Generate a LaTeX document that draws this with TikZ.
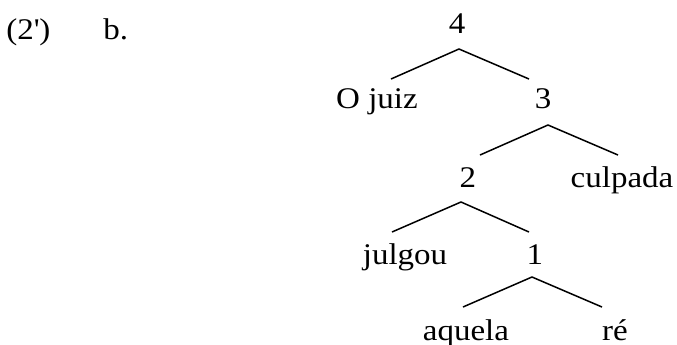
\documentclass[tikz,border=0pt]{standalone}
\usepackage{fontspec}
\setmainfont{Liberation Serif}[FakeStretch=1.1]
\begin{document}
\begin{tikzpicture}[x=0.5pt,y=-0.5pt,
    lbl/.style={anchor=base,inner sep=0pt,font=\fontsize{15}{17}\selectfont},
    branch/.style={line width=0.75pt}]
    \useasboundingbox (0,0) rectangle (677,344);
    \node[lbl,anchor=base west] (num) at (6,39) {(2\textquotesingle)};
    \node[lbl,anchor=base west] (sub) at (103,39) {b.};
    \node[lbl] (n4) at (457,33) {4};
    \node[lbl] (juiz) at (377,108) {O juiz};
    \node[lbl] (n3) at (543,108) {3};
    \node[lbl] (n2) at (468,187) {2};
    \node[lbl] (culpada) at (622,187) {culpada};
    \node[lbl] (julgou) at (405,264) {julgou};
    \node[lbl] (n1) at (535,264) {1};
    \node[lbl] (aquela) at (466,340) {aquela};
    \node[lbl] (re) at (615,340) {ré};
    \draw (459,49) coordinate (a4);
    \draw (391,79) coordinate (l4);
    \draw (529,79) coordinate (r4);
    \draw (548,125) coordinate (a3);
    \draw (480,155) coordinate (l3);
    \draw (618,155) coordinate (r3);
    \draw (461,202) coordinate (a2);
    \draw (392,232) coordinate (l2);
    \draw (529,232) coordinate (r2);
    \draw (532,277) coordinate (a1);
    \draw (463,307) coordinate (l1);
    \draw (602,307) coordinate (r1);
    \draw[branch] (l4) -- (a4) -- (r4);
    \draw[branch] (l3) -- (a3) -- (r3);
    \draw[branch] (l2) -- (a2) -- (r2);
    \draw[branch] (l1) -- (a1) -- (r1);
\end{tikzpicture}
\end{document}
